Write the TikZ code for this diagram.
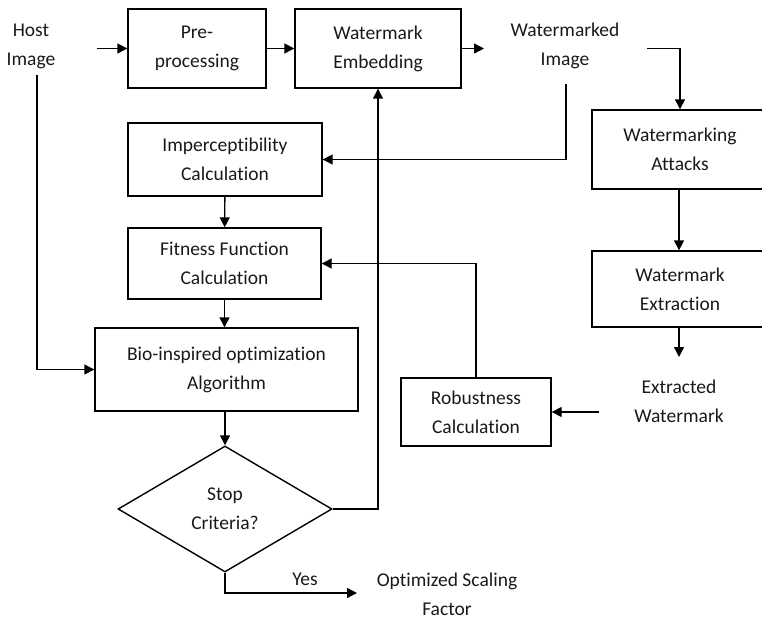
\documentclass[tikz,border=0pt]{standalone}
\usepackage{fontspec}
\setmainfont{Carlito}[RawFeature={-liga;-clig;-calt}]
\usetikzlibrary{arrows.meta,shapes.geometric}
\begin{document}
\begin{tikzpicture}[x=1pt,y=-1pt,
  every node/.style={font=\fontsize{19.5}{29}\selectfont, align=center, text=black!90},
  blk/.style={draw, rectangle, inner sep=0pt, line width=1.4pt},
  lbl/.style={inner sep=1pt},
  arr/.style={line width=1.4pt, -{Triangle[length=10pt,width=10pt]}}]
\useasboundingbox (0,0) rectangle (762,620);
\clip (0,0) rectangle (762,620);

% top row
\node[lbl] (host) at (31,46) {Host\\Image};
\node[blk, minimum width=138pt, minimum height=79pt] (pre) at (197,48.5) {Pre-\\processing};
\node[blk, minimum width=166pt, minimum height=79pt] (emb) at (378,48.5) {Watermark\\Embedding};
\node[lbl] (wimg) at (565,46) {Watermarked\\Image};

% left column
\node[blk, minimum width=194pt, minimum height=73pt] (imper) at (225,159.5) {Imperceptibility\\Calculation};
\node[blk, minimum width=193pt, minimum height=71pt] (fit) at (224.5,263.5) {Fitness Function\\Calculation};
\node[blk, minimum width=263pt, minimum height=83pt] (bio) at (226.5,369.5) {Bio-inspired optimization\\Algorithm};
\node[draw, shape=diamond, line width=1.4pt, inner sep=0pt, aspect=1.7,
      minimum width=214pt, minimum height=126pt] (stop) at (225,509) {Stop\\Criteria?};

% right column
\node[blk, minimum width=176pt, minimum height=79pt] (attacks) at (680,149.5) {Watermarking\\Attacks};
\node[blk, minimum width=176pt, minimum height=76pt] (extract) at (680,289) {Watermark\\Extraction};
\node[lbl] (exwm) at (679,401) {Extracted\\Watermark};
\node[blk, minimum width=150pt, minimum height=68pt] (robust) at (476,412) {Robustness\\Calculation};

% output
\node[lbl] (yes) at (305,579) {Yes};
\node[lbl] (opt) at (447,594) {Optimized Scaling\\Factor};

% free connector ends
\coordinate (hostin) at (97,48.5);
\coordinate (embtip) at (484,48.5);
\coordinate (wright) at (647,48.5);
\coordinate (wbottom) at (566,84);
\coordinate (hostdown) at (37,75);
\coordinate (extip) at (679,357);
\coordinate (exleft) at (599,412);
\coordinate (opttip) at (357,593);

% connectors
\draw[arr] (hostin) -- (pre.west);
\draw[arr] (pre) -- (emb);
\draw[arr] (emb.east) -- (embtip);
\draw[arr] (wright) -| (attacks.north);
\draw[arr] (wbottom) |- (imper.east);
\draw[arr] (hostdown) |- (bio.west);
\draw[arr] (imper) -- (fit);
\draw[arr] (fit.south) -- (fit.south |- bio.north);
\draw[arr] (bio.south -| stop.north) -- (stop.north);
\draw[arr] (stop.east) -| (emb.south);
\draw[arr] (attacks.south -| extip) -- (extract.north -| extip);
\draw[arr] (extract.south -| extip) -- (extip);
\draw[arr] (exleft) -- (robust.east);
\draw[arr] (robust.north) |- (fit.east);
\draw[arr] (stop.south) |- (opttip);
\end{tikzpicture}
\end{document}
